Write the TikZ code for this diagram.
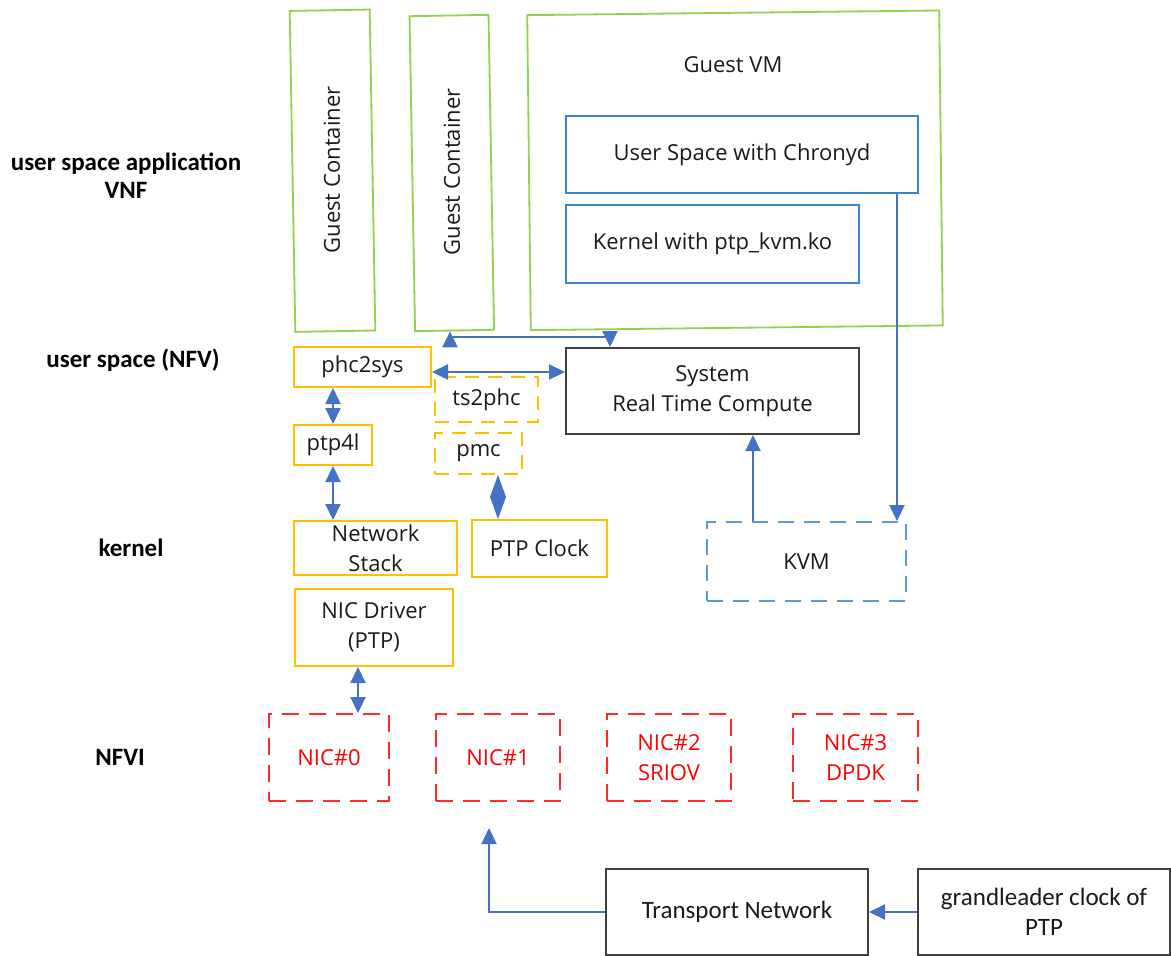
\documentclass[tikz,border=0pt]{standalone}
\usepackage{fontspec}
\setmainfont{Open Sans}
\newfontfamily\carlito{Carlito}
\usetikzlibrary{arrows.meta,calc}
\definecolor{cGreen}{HTML}{92D050}
\definecolor{cYellow}{HTML}{FFC000}
\definecolor{cBlue}{HTML}{3A85D0}
\definecolor{cLightBlue}{HTML}{5B9BD5}
\definecolor{cArrow}{HTML}{4472C4}
\definecolor{cRed}{HTML}{FF2A2A}
\definecolor{cDark}{HTML}{404040}
\definecolor{cText}{HTML}{1A1A1A}
\begin{document}
\begin{tikzpicture}[x=1pt,y=-1pt,
  font=\fontsize{22}{30}\selectfont, text=cText,
  box/.style={draw, line width=2pt, align=center, inner sep=0pt},
  gbox/.style={box, draw=cGreen, line width=1.8pt},
  ybox/.style={box, draw=cYellow},
  ydash/.style={ybox, dash pattern=on 14pt off 9pt},
  bbox/.style={box, draw=cBlue},
  kbox/.style={box, draw=cDark},
  kvmbox/.style={box, draw=cLightBlue, dash pattern=on 16pt off 10pt},
  nicbox/.style={box, draw=cRed, text=red, dash pattern=on 17pt off 10pt, minimum width=124pt, minimum height=87pt},
  lab/.style={font=\carlito\bfseries\fontsize{25}{28}\selectfont, align=center, text=black},
  cal/.style={font=\carlito\fontsize{25}{30}\selectfont},
  tip/.tip={Triangle[length=16pt,width=15pt]},
  arr/.style={draw=cArrow, line width=2.2pt, -tip},
  darr/.style={draw=cArrow, line width=2.2pt, tip-tip},
]
\useasboundingbox (0,0) rectangle (1171,956);

% layer labels
\node[lab] (lvnf) at (126,176) {user space application\\VNF};
\node[lab] (lnfv) at (133,360) {user space (NFV)};
\node[lab] (lker) at (131,548) {kernel};
\node[lab] (lnfvi) at (120,757) {NFVI};

% guests
\node[gbox, minimum width=80pt, minimum height=321pt, rotate=1] (gc1) at (332.5,170.7) {};
\node[rotate=90] (gc1t) at (332,170) {Guest Container};
\node[gbox, minimum width=79pt, minimum height=315pt, rotate=1] (gc2) at (451.8,173) {};
\node[rotate=90] (gc2t) at (452,172) {Guest Container};
\node[gbox, minimum width=412pt, minimum height=315pt, rotate=0.65] (vm) at (735,170.3) {};
\node (vmt) at (733,65) {Guest VM};
\node[bbox, minimum width=352pt, minimum height=77pt] (chr) at (742,154.5) {User Space with Chronyd};
\node[bbox, minimum width=293pt, minimum height=78pt] (kern) at (712.5,244) {Kernel with ptp\_kvm.ko};

% user space (NFV)
\node[ybox, minimum width=137pt, minimum height=40pt] (phc) at (362.5,367) {phc2sys};
\node[ydash, minimum width=103pt, minimum height=45pt] (ts) at (486.5,399.5) {ts2phc};
\node[ybox, minimum width=78pt, minimum height=40pt] (ptp) at (333,445) {ptp4l};
\node[ydash, minimum width=87pt, minimum height=41pt] (pmc) at (478.5,453.5) {pmc};
\node[kbox, minimum width=293pt, minimum height=86pt] (sys) at (712.5,391) {System\\Real Time Compute};

% kernel
\node[ybox, minimum width=163pt, minimum height=54pt] (ns) at (375.5,548) {Network\\Stack};
\node[ybox, minimum width=135pt, minimum height=57pt] (clk) at (539.5,548.5) {PTP Clock};
\node[ybox, minimum width=158pt, minimum height=77pt] (drv) at (374,627.5) {NIC Driver\\(PTP)};
\node[kvmbox, minimum width=199pt, minimum height=79pt] (kvm) at (806.5,561.5) {KVM};

% NFVI
\node[nicbox, minimum width=120pt] (nic0) at (329,757.5) {NIC\#0};
\node[nicbox] (nic1) at (498,757.5) {NIC\#1};
\node[nicbox] (nic2) at (669,757.5) {NIC\#2\\SRIOV};
\node[nicbox, minimum width=125pt] (nic3) at (855.5,757.5) {NIC\#3\\DPDK};

% timing sources
\node[kbox, cal, minimum width=262pt, minimum height=86pt] (tn) at (737,912) {Transport Network};
\node[kbox, cal, minimum width=252pt, minimum height=86pt] (gm) at (1044,912) {grandleader clock of\\PTP};

% connectors
\coordinate (jl) at (450,337);
\coordinate (jr) at (610,337);
\draw[darr] (gc2.south -| jl) |- (jr) -- (sys.north -| jr);
\draw[darr] ([yshift=-5pt]phc.east) -- ([yshift=-5pt]phc.east -| sys.west);
\draw[darr] (phc.south -| ptp) -- (ptp.north);
\draw[darr] (ptp.south) -- (ptp.south |- ns.north);
\coordinate (dx) at (498,0);
\coordinate (dtop) at (pmc.south -| dx);
\coordinate (dbot) at (clk.north -| dx);
\fill[cArrow] (dtop) -- ($(dtop)!0.5!(dbot)+(8,0)$) -- (dbot) -- ($(dtop)!0.5!(dbot)+(-8,0)$) -- cycle;
\draw[darr] (drv.south -| 358,0) -- (nic0.north -| 358,0);
\draw[arr] (kvm.north -| 753,0) -- (sys.south -| 753,0);
\draw[arr] (chr.south -| 897,0) -- (kvm.north -| 897,0);
\coordinate (nicin) at (489,828);
\draw[arr] (tn.west) -| (nicin);
\draw[arr] (gm.west) -- (tn.east);
\end{tikzpicture}
\end{document}
